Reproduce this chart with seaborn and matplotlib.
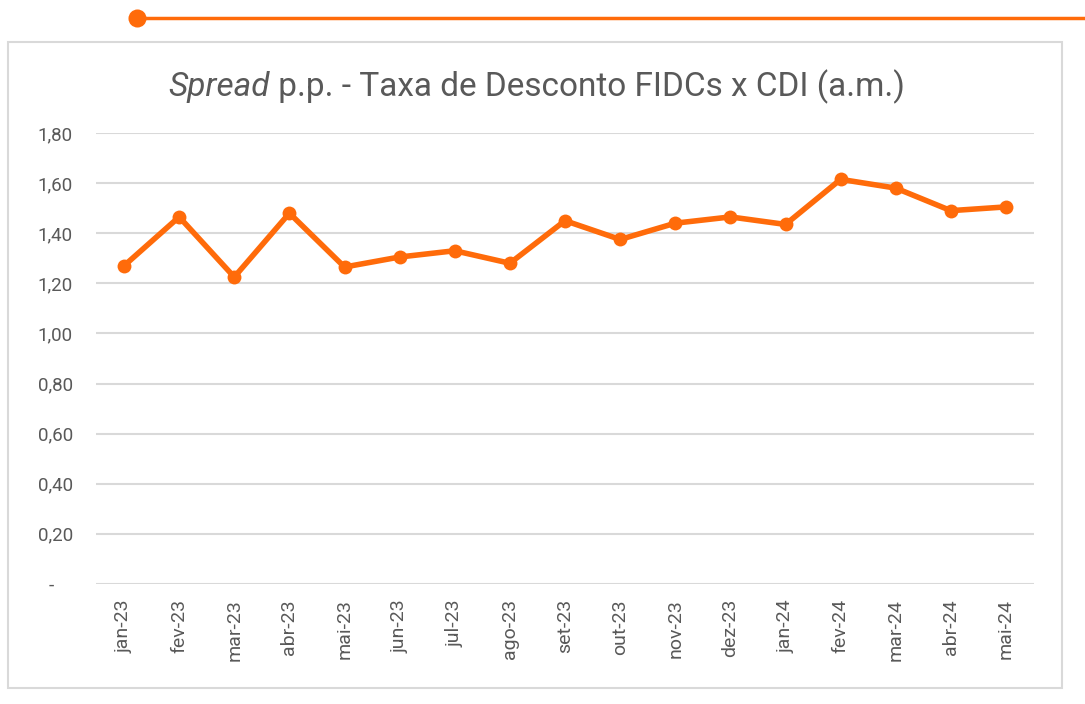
import matplotlib
matplotlib.use("Agg")
import matplotlib.pyplot as plt
import seaborn as sns
import pandas as pd
from matplotlib.patches import Rectangle
from matplotlib.lines import Line2D

months = ["jan-23", "fev-23", "mar-23", "abr-23", "mai-23", "jun-23", "jul-23", "ago-23",
          "set-23", "out-23", "nov-23", "dez-23", "jan-24", "fev-24", "mar-24", "abr-24", "mai-24"]
spread = [1.27, 1.465, 1.225, 1.48, 1.265, 1.305, 1.33, 1.28,
          1.45, 1.375, 1.44, 1.465, 1.435, 1.615, 1.58, 1.49, 1.505]
yticks = [0, 0.2, 0.4, 0.6, 0.8, 1.0, 1.2, 1.4, 1.6, 1.8]
ytick_labels = ["-    ", "0,20", "0,40", "0,60", "0,80", "1,00", "1,20", "1,40", "1,60", "1,80"]
title_italic = "Spread"
title_rest = " p.p. - Taxa de Desconto FIDCs x CDI (a.m.)"

sns.set_theme(style="white")
plt.rcParams['font.family'] = ['Roboto', 'DejaVu Sans']

ORANGE = "#FF6B0A"
GRAY_TXT = "#595959"
GRID = "#D9D9D9"

df = pd.DataFrame({"mes": months, "spread": spread})

fig = plt.figure(figsize=(10.85, 7.04), dpi=100)
ax = fig.add_axes([0.0889, 0.1705, 0.8637, 0.6406])

sns.lineplot(data=df, x="mes", y="spread", ax=ax, color=ORANGE, linewidth=4,
             marker="o", markersize=10, markeredgewidth=0, sort=False)

ax.set_xlim(-0.5, len(months) - 0.5)
ax.set_ylim(0, 1.8)
ax.set_yticks(yticks)
ax.set_yticklabels(ytick_labels)
ax.yaxis.grid(True, color=GRID, linewidth=1.5)
ax.set_axisbelow(True)
for s in ax.spines.values():
    s.set_visible(False)
ax.set_xlabel("")
ax.set_ylabel("")
ax.tick_params(axis="y", length=0, pad=17, labelsize=13.5, labelcolor=GRAY_TXT)
ax.tick_params(axis="x", length=0, pad=11, labelsize=14, labelcolor=GRAY_TXT, rotation=90)

# Title with italic first word
t1 = fig.text(0, 0, title_italic, fontsize=24, color=GRAY_TXT, style="italic",
              va="baseline")
t2 = fig.text(0, 0, title_rest, fontsize=24, color=GRAY_TXT, va="baseline")
fig.canvas.draw()
r = fig.canvas.get_renderer()
w1 = t1.get_window_extent(r).width
w2 = t2.get_window_extent(r).width
total = w1 + w2
x0 = (537 - total / 2) / 1085
ybase = 1 - 96 / 704
t1.set_position((x0, ybase))
t2.set_position((x0 + w1 / 1085, ybase))

# Border box
fig.patches.append(Rectangle((8 / 1085, 1 - 688 / 704), 1054 / 1085, 646 / 704,
                             transform=fig.transFigure, fill=False,
                             edgecolor=GRID, linewidth=1.5))
# Top decoration
fig.lines.append(Line2D([137 / 1085, 1.0], [1 - 18 / 704, 1 - 18 / 704],
                        transform=fig.transFigure, color=ORANGE, linewidth=2.5))
fig.lines.append(Line2D([137 / 1085], [1 - 18 / 704], transform=fig.transFigure,
                        marker="o", markersize=13, color=ORANGE, markeredgewidth=0))

fig.savefig("out.png", dpi=100)
